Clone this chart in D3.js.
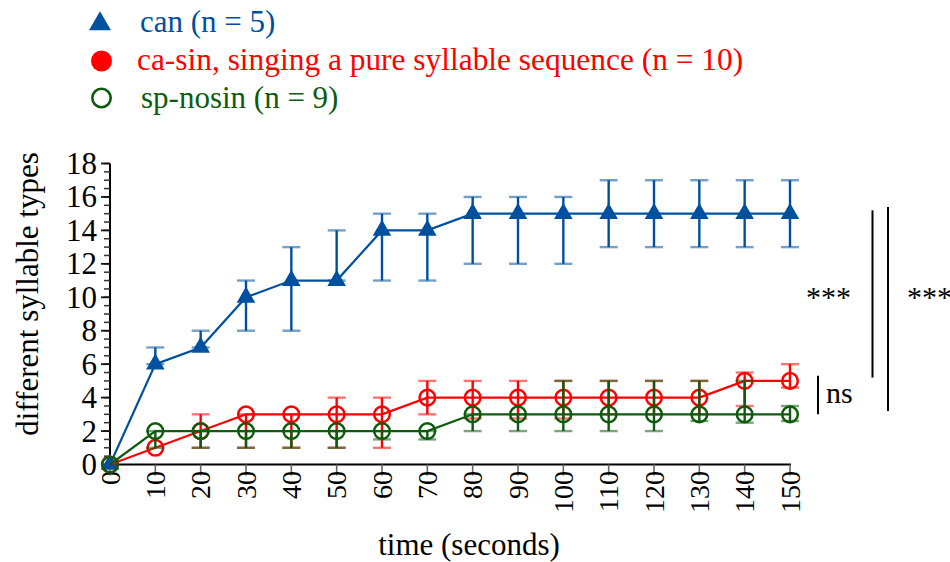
<!DOCTYPE html>
<html>
<head>
<meta charset="utf-8">
<script src="https://cdn.jsdelivr.net/npm/d3@7"></script>
<style>
  body { margin: 0; background: #fff; }
  svg text { font-family: "Liberation Serif", "DejaVu Serif", "Times New Roman", Times, serif; }
</style>
</head>
<body>
<script>
// time points (seconds)
const times = [0, 10, 20, 30, 40, 50, 60, 70, 80, 90, 100, 110, 120, 130, 140, 150];

// can (n = 5)
const canVal  = [0, 6, 7, 10, 11, 11, 14, 14, 15, 15, 15, 15, 15, 15, 15, 15];
const canLow  = [0, 6, 7, 8, 8, 11, 11, 11, 12, 12, 12, 13, 13, 13, 13, 13];
const canHigh = [0, 7, 8, 11, 13, 14, 15, 15, 16, 16, 16, 17, 17, 17, 17, 17];

// ca-sin (n = 10)
const sinVal  = [0, 1, 2, 3, 3, 3, 3, 4, 4, 4, 4, 4, 4, 4, 5, 5];
const sinLow  = [0, 1, 1, 1, 1, 1, 1, 3, 2.75, 2.75, 2.75, 3, 3, 3, 3.5, 4.6];
const sinHigh = [0, 1, 3, 3, 3, 4, 4, 5, 5, 5, 5, 5, 5, 5, 5.5, 6];

// sp-nosin (n = 9)
const nosVal  = [0, 2, 2, 2, 2, 2, 2, 2, 3, 3, 3, 3, 3, 3, 3, 3];
const nosLow  = [0, 1, 1, 1, 1, 1, 1.5, 1.5, 2, 2, 2, 2, 2, 2.6, 2.5, 2.6];
const nosHigh = [0, 2, 2, 2, 2, 2, 2, 2, 3, 3, 5, 5, 5, 5, 5, 3.5];

const xTicks = d3.range(0, 151, 10);
const yTicks = d3.range(0, 19, 2);
const yMinor = d3.range(0, 18.01, 0.5);

const legendLabels = [
    "can (n = 5)",
    "ca-sin, singing a pure syllable sequence (n = 10)",
    "sp-nosin (n = 9)"
];

const blue = "#0050a0", red = "#ff0000", green = "#0c5c0c";
const serif = "'Liberation Serif', 'DejaVu Serif', serif";

const series = [
    {name: legendLabels[0], color: blue, vals: canVal, low: canLow, high: canHigh, marker: "triangle"},
    {name: legendLabels[1], color: red, vals: sinVal, low: sinLow, high: sinHigh, marker: "circle"},
    {name: legendLabels[2], color: green, vals: nosVal, low: nosLow, high: nosHigh, marker: "circle"}
];

var width = 950, height = 562;
var svg = d3.select("body").append("svg")
    .attr("width", width)
    .attr("height", height)
    .attr("font-family", serif);

const x = d3.scaleLinear().domain([0, 150]).range([110, 790]);
const y = d3.scaleLinear().domain([0, 18]).range([464.5, 163.5]);

// y axis: line, minor ticks, major ticks
svg.append("line")
    .attr("x1", 110).attr("x2", 110)
    .attr("y1", y(18)).attr("y2", y(0) + 1)
    .attr("stroke", "#000").attr("stroke-width", 2);

svg.selectAll("line.yminor")
    .data(yMinor)
    .enter().append("line")
    .attr("class", "yminor")
    .attr("x1", 104).attr("x2", 110)
    .attr("y1", d => y(d)).attr("y2", d => y(d))
    .attr("stroke", "#333").attr("stroke-width", 1.5);

svg.selectAll("line.ymajor")
    .data(yTicks)
    .enter().append("line")
    .attr("class", "ymajor")
    .attr("x1", 101).attr("x2", 110)
    .attr("y1", d => y(d)).attr("y2", d => y(d))
    .attr("stroke", "#111").attr("stroke-width", 1.8);

svg.selectAll("text.ylab")
    .data(yTicks)
    .enter().append("text")
    .attr("class", "ylab")
    .attr("x", 97)
    .attr("y", d => y(d))
    .attr("dy", "0.34em")
    .attr("text-anchor", "end")
    .style("font-family", serif)
    .style("font-size", "31px")
    .text(d => d);

// x axis
svg.append("line")
    .attr("x1", 109).attr("x2", x(150) + 1)
    .attr("y1", y(0)).attr("y2", y(0))
    .attr("stroke", "#000").attr("stroke-width", 2.2);

svg.selectAll("line.xtick")
    .data(xTicks)
    .enter().append("line")
    .attr("class", "xtick")
    .attr("x1", d => x(d)).attr("x2", d => x(d))
    .attr("y1", y(0)).attr("y2", y(0) + 11)
    .attr("stroke", "#666").attr("stroke-width", 1.6);

svg.selectAll("text.xlab")
    .data(xTicks)
    .enter().append("text")
    .attr("class", "xlab")
    .attr("transform", d => `translate(${x(d)}, 471) rotate(-90)`)
    .attr("dy", "0.34em")
    .attr("text-anchor", "end")
    .style("font-family", serif)
    .style("font-size", "28px")
    .text(d => d);

// axis titles
svg.append("text")
    .attr("transform", "translate(38, 294) rotate(-90)")
    .attr("text-anchor", "middle")
    .style("font-family", serif)
    .style("font-size", "31px")
    .text("different syllable types");

svg.append("text")
    .attr("x", 469).attr("y", 555)
    .attr("text-anchor", "middle")
    .style("font-family", serif)
    .style("font-size", "31px")
    .text("time (seconds)");

// series: error bars, line, markers
const line = d3.line()
    .x((d, i) => x(times[i]))
    .y(d => y(d));

const triangle = d3.symbol().type(d3.symbolTriangle).size(150);

series.forEach(s => {
    const g = svg.append("g");
    const pts = times.map((t, i) => ({t: t, v: s.vals[i], lo: s.low[i], hi: s.high[i]}));
    const bars = pts.filter(d => d.hi > d.lo);

    // stems
    g.selectAll("line.stem")
        .data(bars)
        .enter().append("line")
        .attr("x1", d => x(d.t)).attr("x2", d => x(d.t))
        .attr("y1", d => y(d.lo)).attr("y2", d => y(d.hi))
        .attr("stroke", s.color).attr("stroke-width", 2.4);

    // caps (lighter)
    const caps = [];
    bars.forEach(d => {
        caps.push({t: d.t, v: d.hi});
        caps.push({t: d.t, v: d.lo});
    });
    g.selectAll("line.cap")
        .data(caps)
        .enter().append("line")
        .attr("x1", d => x(d.t) - 9).attr("x2", d => x(d.t) + 9)
        .attr("y1", d => y(d.v)).attr("y2", d => y(d.v))
        .attr("stroke", s.color).attr("stroke-width", 2.4)
        .attr("stroke-opacity", 0.55);

    g.append("path")
        .datum(s.vals)
        .attr("d", line)
        .attr("fill", "none")
        .attr("stroke", s.color)
        .attr("stroke-width", 2.2);

    if (s.marker === "triangle") {
        g.selectAll("path.mk")
            .data(pts)
            .enter().append("path")
            .attr("transform", d => `translate(${x(d.t)}, ${y(d.v)})`)
            .attr("d", triangle)
            .attr("fill", s.color);
    } else {
        g.selectAll("circle.mk")
            .data(pts)
            .enter().append("circle")
            .attr("cx", d => x(d.t))
            .attr("cy", d => y(d.v))
            .attr("r", 7.8)
            .attr("fill", "none")
            .attr("stroke", s.color)
            .attr("stroke-width", 2.5);
    }
});

// legend
const legend = svg.append("g");
const rowY = [22, 60, 98];
const rowX = [140, 137, 141];

legend.append("path")
    .attr("transform", `translate(100, ${rowY[0] + 2})`)
    .attr("d", d3.symbol().type(d3.symbolTriangle).size(210))
    .attr("fill", blue);
legend.append("circle")
    .attr("cx", 101.5).attr("cy", rowY[1] + 1).attr("r", 10.5)
    .attr("fill", red);
legend.append("circle")
    .attr("cx", 101.5).attr("cy", rowY[2]).attr("r", 9.2)
    .attr("fill", "none").attr("stroke", green).attr("stroke-width", 2.6);

series.forEach((s, i) => {
    legend.append("text")
        .attr("x", rowX[i])
        .attr("y", rowY[i] + 10)
        .style("font-family", serif)
        .style("font-size", i === 1 ? "31.4px" : "31px")
        .style("fill", s.color)
        .text(s.name);
});

// significance annotations
const annot = svg.append("g");
annot.append("line")
    .attr("x1", 818).attr("x2", 818)
    .attr("y1", y(5.3)).attr("y2", y(3.0))
    .attr("stroke", "#000").attr("stroke-width", 2);
annot.append("text")
    .attr("x", 826).attr("y", y(3.65))
    .style("font-family", serif)
    .style("font-size", "30px")
    .text("ns");

annot.append("line")
    .attr("x1", 872.5).attr("x2", 872.5)
    .attr("y1", y(15.2)).attr("y2", y(5.2))
    .attr("stroke", "#000").attr("stroke-width", 2);
annot.append("line")
    .attr("x1", 888).attr("x2", 888)
    .attr("y1", y(15.4)).attr("y2", y(3.2))
    .attr("stroke", "#000").attr("stroke-width", 2);

annot.append("text")
    .attr("x", 806).attr("y", y(9.4))
    .style("font-family", serif)
    .style("font-size", "30px")
    .text("***");
annot.append("text")
    .attr("x", 907).attr("y", y(9.4))
    .style("font-family", serif)
    .style("font-size", "30px")
    .text("***");
</script>
</body>
</html>
